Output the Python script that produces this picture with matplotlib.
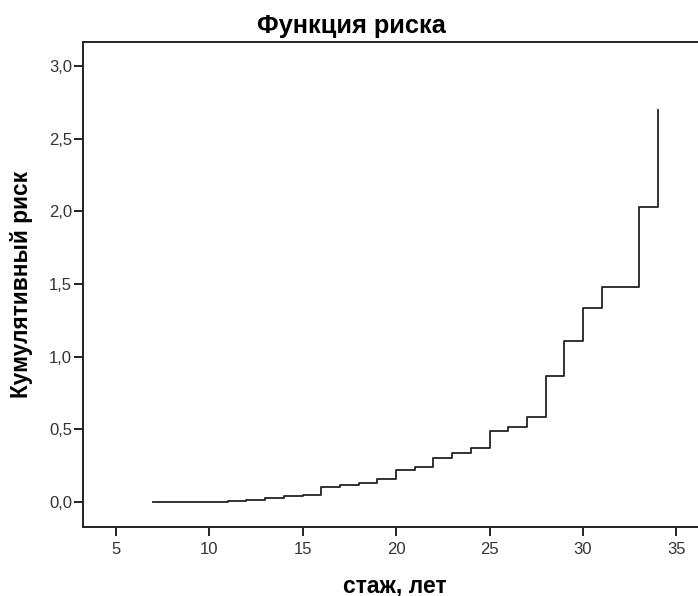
import numpy as np
import matplotlib
matplotlib.use('Agg')
import matplotlib.pyplot as plt
from matplotlib.ticker import FuncFormatter

plt.rcParams['font.family'] = ['Liberation Sans', 'DejaVu Sans']

# time points (years of service) and cumulative hazard at each step
years = [7, 11, 12, 13, 14, 15, 16, 17, 18, 19, 20, 21, 22, 23, 24, 25,
         26, 27, 28, 29, 30, 31, 33, 34]
risk = [0.0, 0.005, 0.015, 0.025, 0.04, 0.05, 0.105, 0.117, 0.13, 0.16,
        0.22, 0.243, 0.30, 0.337, 0.37, 0.489, 0.518, 0.585, 0.867, 1.108,
        1.333, 1.48, 2.03, 2.70]
xticks = [5, 10, 15, 20, 25, 30, 35]
yticks = [0.0, 0.5, 1.0, 1.5, 2.0, 2.5, 3.0]

W, H = 698, 596
fig = plt.figure(figsize=(W / 100, H / 100), dpi=100)
ax = fig.add_axes([83 / W, (H - 527) / H, (W - 83) / W, (527 - 42) / H])

ax.plot(years, risk, drawstyle='steps-post', color='#222222', lw=1.3)

ax.set_xlim(3.26, 36.15)
ax.set_ylim(-0.172, 3.165)
ax.set_xticks(xticks)
ax.set_yticks(yticks)
ax.yaxis.set_major_formatter(FuncFormatter(lambda v, p: f'{v:.1f}'.replace('.', ',')))

for s in ['left', 'bottom', 'top']:
    ax.spines[s].set_linewidth(1.4)
    ax.spines[s].set_color('#222222')
ax.spines['right'].set_visible(False)
ax.tick_params(direction='out', length=6.5, width=1.4, color='#222222',
               labelsize=12, labelcolor='#333333', pad=3)
ax.tick_params(axis='x', pad=4)
ax.tick_params(axis='y', pad=1.5)

fig.text(22 / W, 1 - 284 / H, 'Кумулятивный риск', fontsize=16.3, fontweight='bold',
         rotation=90, ha='center', va='center')
fig.text(395 / W, 1 - 592 / H, 'стаж, лет', fontsize=16.5, fontweight='bold',
         ha='center', va='baseline')
fig.text(351 / W, 1 - 33 / H, 'Функция риска', fontsize=18.3, fontweight='bold',
         ha='center', va='baseline')

fig.savefig('out.png', dpi=100)
